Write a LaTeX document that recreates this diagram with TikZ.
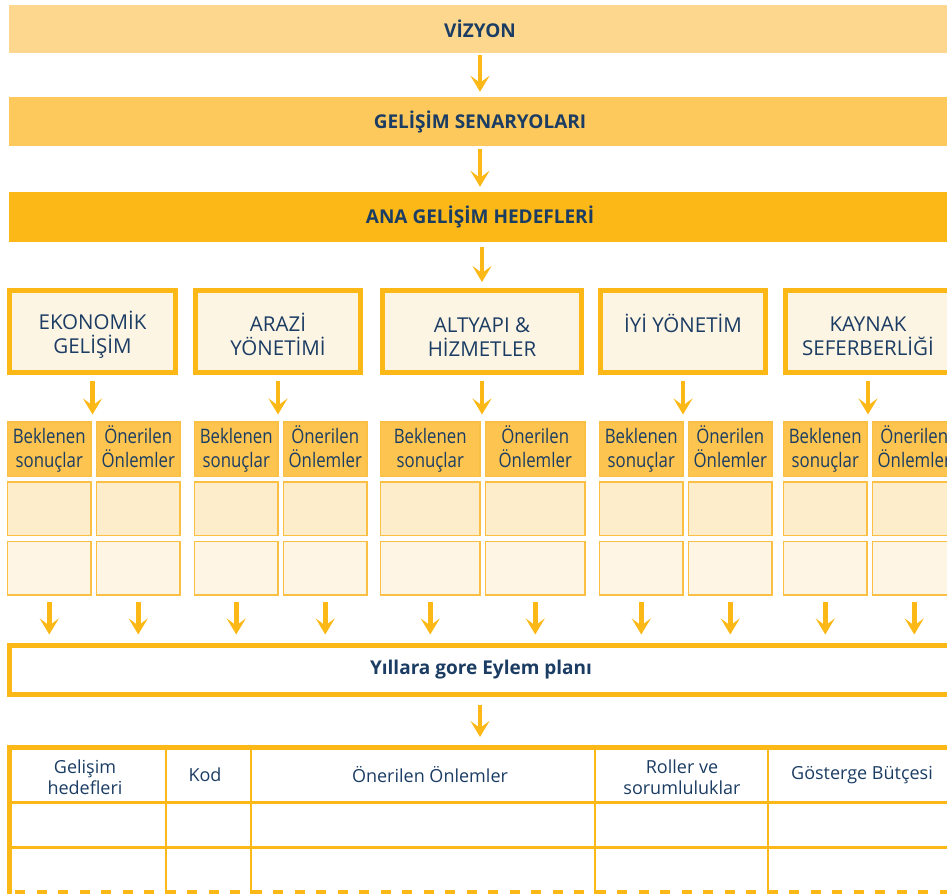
\documentclass[tikz,border=0pt]{standalone}
\usepackage{fontspec}
\setmainfont{Open Sans}
\newfontfamily\narrowfont{Open Sans}[FakeStretch=0.84]
\IfFontExistsTF{Open Sans SemiBold}
  {\newfontfamily\semifont{Open Sans SemiBold}}
  {\newcommand\semifont{\bfseries}}
\usetikzlibrary{arrows.meta}

\definecolor{vizyonfill}{HTML}{FDD78E}
\definecolor{senaryofill}{HTML}{FDC95C}
\definecolor{gold}{HTML}{FBB817}
\definecolor{cream}{HTML}{FDF5E4}
\definecolor{cellhead}{HTML}{FDC550}
\definecolor{cellline}{HTML}{FBC043}
\definecolor{rowa}{HTML}{FEEDCB}
\definecolor{rowb}{HTML}{FEF5E4}
\definecolor{navy}{HTML}{1B3C63}

\newcommand\cellline[1]{\vphantom{Öç}#1}

\begin{document}
\begin{tikzpicture}
    [x=1pt, y=-1pt,
    bar/.style={minimum width=942, minimum height=48, inner sep=0,
      text=navy, font=\semifont\fontsize{19}{22}\selectfont},
    flow/.style={draw=gold, line width=4.7pt,
      -{Stealth[length=16pt,width=19pt,inset=7pt]}},
    goalbox/.style={draw=gold, line width=5pt, fill=cream, minimum height=82,
      inner sep=0, align=center, text=navy, font=\fontsize{20.5}{24}\selectfont},
    headcell/.style={draw=cellline, line width=1.5pt, fill=cellhead,
      minimum height=54.5, inner sep=0, align=center, text=navy,
      font=\narrowfont\fontsize{20}{20.5}\selectfont},
    rowcell/.style={draw=cellline, line width=1.5pt, minimum height=53.5, inner sep=0},
    planbox/.style={draw=gold, line width=5pt, fill=white, minimum width=943,
      minimum height=49, inner sep=0, text=navy, font=\semifont\fontsize{19}{22}\selectfont},
    tabletext/.style={inner sep=0, align=center, text=navy,
      font=\fontsize{18}{21}\selectfont},
    ]
    \clip (0,0) rectangle (947,894);
    % top bars
    \node[bar, fill=vizyonfill] (vizyon) at (480,29) {VİZYON};
    \node[bar, fill=senaryofill, minimum height=49] (senaryo) at (480,121.5) {GELİŞİM SENARYOLARI};
    \node[bar, fill=gold, minimum height=50] (hedef) at (480,217) {ANA GELİŞİM HEDEFLERİ};
    \draw[flow, shorten <=2pt, shorten >=5pt] (vizyon) -- (senaryo);
    \draw[flow, shorten <=3pt, shorten >=5pt] (senaryo) -- (hedef);
    % plan box
    \node[planbox] (plan) at (481,670) {Yıllara gore Eylem planı};
    % five goal groups
    \foreach \g/\gx/\gw/\cx/\cw/\txt in
      {ekon/92.5/166/6/85/{EKONOMİK\\GELİŞİM},
       arazi/278/165/193/85/{ARAZİ\\YÖNETİMİ},
       altyapi/482/199/379/101/{ALTYAPI \&\\HİZMETLER},
       yonetim/683/165/598/85/{İYİ YÖNETİM\\\mbox{}},
       kaynak/868/165/782/85/{KAYNAK\\SEFERBERLİĞİ}}
    {
      \node[goalbox, minimum width=\gw] (\g) at (\gx,331.5) {\rule{0pt}{25pt}\txt};
      \node[headcell, minimum width=\cw-1.5, anchor=west] (\g-b) at (\cx+0.75,449)
        {\cellline{Beklenen}\\\cellline{sonuçlar}};
      \node[headcell, minimum width=\cw-1.5, anchor=west] (\g-o) at (\cx+\cw+4.75,449)
        {\cellline{Önerilen}\\\cellline{Önlemler}};
      \node[rowcell, fill=rowa, minimum width=\cw-1.5, anchor=west] (\g-b1) at (\cx+0.75,508.5) {};
      \node[rowcell, fill=rowa, minimum width=\cw-1.5, anchor=west] (\g-o1) at (\cx+\cw+4.75,508.5) {};
      \node[rowcell, fill=rowb, minimum width=\cw-1.5, anchor=west] (\g-b2) at (\cx+0.75,568) {};
      \node[rowcell, fill=rowb, minimum width=\cw-1.5, anchor=west] (\g-o2) at (\cx+\cw+4.75,568) {};
      \draw[flow, shorten <=5.5pt, shorten >=6.5pt] (\g.south) -- (\g.south |- \g-b.north);
      \draw[flow, shorten <=6.25pt, shorten >=8.5pt] (\g-b2.south) -- (\g-b2.south |- plan.north);
      \draw[flow, shorten <=6.25pt, shorten >=8.5pt] (\g-o2.south) -- (\g-o2.south |- plan.north);
    }
    \draw[flow, shorten <=5pt, shorten >=6pt] (hedef.south -| altyapi.north) -- (altyapi.north);
    % action plan table
    \coordinate (tabletop) at (480,747.5);
    \draw[flow, shorten <=7.5pt, shorten >=10.5pt] (plan.south -| tabletop) -- (tabletop);
    \draw[gold, line width=5pt] (7,747.5) -- (960,747.5);
    \draw[gold, line width=5pt] (9.5,745) -- (9.5,894);
    \draw[gold, line width=3pt] (9.5,802.5) -- (960,802.5);
    \draw[gold, line width=3pt] (9.5,847) -- (960,847);
    \foreach \x in {166,251,595,768}
      \draw[gold, line width=2.5pt] (\x,747.5) -- (\x,894);
    \draw[gold, line width=4pt, dash pattern=on 10pt off 11.5pt] (15,892) -- (960,892);
    \node[tabletext] (hedefler) at (85,777) {Gelişim\\hedefleri};
    \node[tabletext] (kod) at (205,775) {Kod};
    \node[tabletext] (onlemler) at (430,775) {Önerilen Önlemler};
    \node[tabletext] (roller) at (682,777) {Roller ve\\sorumluluklar};
    \node[tabletext] (butce) at (862,775) {Gösterge Bütçesi};
  \end{tikzpicture}
\end{document}
